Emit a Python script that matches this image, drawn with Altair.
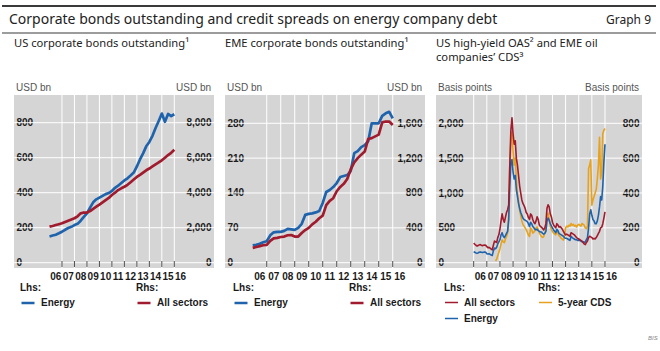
import altair as alt
import pandas as pd

# ---------------- data ----------------
YEARS = list(range(2006, 2017))

# quarterly time stamps 2006.0 .. 2016.0
Q_T = [2006 + i * 0.25 for i in range(41)]

# Panel 1: US corporate bonds outstanding (USD bn)
P1_ENERGY = [150, 155, 160, 168, 177, 188, 198, 205, 215, 222, 240, 262, 282, 315, 345, 362,
             372, 382, 392, 398, 410, 428, 440, 455, 470, 482, 498, 515, 550, 590, 625, 665,
             690, 725, 770, 810, 852, 805, 850, 838, 848]
P1_ALL = [2060, 2100, 2150, 2200, 2250, 2330, 2400, 2470, 2540, 2650, 2820, 2870, 2860, 2950,
          3080, 3200, 3320, 3450, 3580, 3700, 3870, 4000, 4150, 4250, 4340, 4450, 4600, 4750,
          4900, 5020, 5150, 5280, 5380, 5500, 5620, 5730, 5850, 6000, 6150, 6280, 6450]
P1_LHS_TICKS = [0, 200, 400, 600, 800]
P1_RHS_TICKS = [0, 2000, 4000, 6000, 8000]

# Panel 2: EME corporate bonds outstanding (USD bn)
P2_ENERGY = [35, 36, 38, 41, 43, 55, 61, 62, 62, 64, 68, 67, 66, 70, 78, 96, 98, 99, 101, 104,
             120, 142, 146, 152, 160, 172, 174, 176, 184, 220, 224, 232, 236, 244, 280, 280,
             280, 295, 300, 303, 290]
P2_ALL = [170, 180, 190, 200, 205, 250, 280, 285, 295, 300, 315, 318, 300, 300, 340, 375, 400,
          440, 470, 510, 540, 660, 710, 740, 820, 870, 905, 960, 1070, 1150, 1200, 1240, 1275,
          1420, 1430, 1450, 1470, 1610, 1620, 1620, 1580]
P2_LHS_TICKS = [0, 70, 140, 210, 280]
P2_RHS_TICKS = [0, 400, 800, 1200, 1600]

# Panel 3: monthly spreads (basis points)
M_T = [2006 + i / 12 for i in range(121)]
P3_ALL = [280, 265, 250, 240, 245, 255, 260, 250, 245, 250, 255, 250,
          230, 215, 220, 210, 195, 185, 250, 310, 300, 290, 360, 400,
          480, 600, 700, 620, 580, 650, 720, 760, 830, 1400, 1900, 2080,
          1850, 1700, 1750, 1500, 1400, 1250, 1100, 1000, 900, 850, 820, 780,
          720, 700, 650, 620, 700, 680, 620, 580, 560, 600, 660, 620,
          540, 520, 510, 490, 470, 500, 560, 780, 830, 800, 700, 660,
          580, 540, 520, 500, 560, 540, 510, 520, 500, 480, 450, 420,
          400, 410, 400, 390, 380, 430, 420, 410, 400, 380, 360, 350,
          340, 330, 320, 310, 290, 270, 260, 290, 310, 360, 380, 370,
          360, 340, 350, 340, 360, 390, 420, 450, 500, 510, 560, 640,
          730]
P3_ENERGY = [160, 150, 140, 135, 140, 150, 155, 150, 145, 150, 155, 150,
             130, 125, 130, 120, 110, 105, 170, 210, 200, 220, 270, 300,
             330, 400, 430, 380, 360, 390, 420, 450, 620, 1100, 1450, 1480,
             1300, 1200, 1250, 1050, 950, 850, 780, 720, 680, 640, 620, 610,
             600, 590, 560, 520, 580, 560, 520, 500, 480, 470, 480, 460,
             450, 440, 440, 420, 410, 420, 450, 600, 640, 610, 560, 530,
             500, 470, 450, 430, 480, 460, 420, 410, 400, 390, 380, 360,
             350, 350, 340, 330, 320, 380, 360, 350, 340, 330, 330, 320,
             320, 320, 310, 300, 300, 290, 300, 330, 360, 500, 700, 760,
             680, 620, 600, 560, 560, 600, 680, 800, 950, 900, 1100, 1450,
             1700]
CDS_T = [2007 + (8 + i) / 12 for i in range(101)]
P3_CDS = [10, 20, 40, 60,
          80, 110, 130, 120, 115, 135, 150, 170, 260, 560, 700, 750,
          640, 560, 600, 480, 400, 350, 300, 270, 240, 220, 210, 200,
          190, 175, 160, 150, 200, 190, 170, 175, 185, 200, 205, 190,
          170, 160, 150, 145, 150, 170, 190, 270, 285, 250, 210, 190,
          180, 170, 165, 160, 180, 170, 155, 150, 140, 135, 130, 150,
          200, 210, 205, 215, 210, 225, 215, 220, 210, 215, 205, 215,
          220, 215, 210, 225, 220, 215, 200, 195, 210, 540, 560, 590,
          330, 360, 380, 400, 420, 480, 560, 720, 480, 520, 740, 760,
          770]
P3_LHS_TICKS = [0, 500, 1000, 1500, 2000]
P3_RHS_TICKS = [0, 200, 400, 600, 800]

S_ENERGY, S_ALL, S_CDS = "Energy", "All sectors", "5-year CDS"

TITLE = "Corporate bonds outstanding and credit spreads on energy company debt"
GRAPH = "Graph 9"
SUB1 = "US corporate bonds outstanding\u00b9"
SUB2 = "EME corporate bonds outstanding\u00b9"
SUB3 = ["US high-yield OAS\u00b2 and EME oil", "companies\u2019 CDS\u00b3"]
UNIT_USD = "USD bn"
UNIT_BP = "Basis points"

# ---------------- style ----------------
BLUE, RED, ORANGE = "#1f63ad", "#a01b2d", "#e6a21e"
GRAY = "#d5d5d5"
FONT = "Liberation Sans"
TFONT = "Noto Sans"
INK = "#1a1a1a"
UNIT = "#555555"
H = 173
W1, W2, W3 = 200, 200, 206

YEAR_DF = pd.DataFrame({"yr": YEARS, "mid": [y + 0.5 for y in YEARS],
                        "lab": [str(y)[2:] for y in YEARS]})


def long(t, vals, name):
    return pd.DataFrame({"t": t, "v": vals, "s": [name] * len(vals)})


def xs(field, xdom):
    return alt.X(field, type="quantitative",
                 scale=alt.Scale(domain=xdom, nice=False, zero=False), axis=None)


def ys(field, ydom):
    return alt.Y(field, type="quantitative",
                 scale=alt.Scale(domain=ydom, nice=False, zero=False), axis=None)


def x_layers(xdom, first_year):
    base = alt.Chart(YEAR_DF)
    grid_df = base.transform_filter(f"datum.yr >= {first_year}")
    vgrid = grid_df.mark_rule(color="#ffffff", strokeWidth=1).encode(
        x=xs("yr", xdom), y=alt.value(0), y2=alt.value(H))
    ticks = grid_df.mark_rule(color="#4d4d4d", strokeWidth=1).encode(
        x=xs("yr", xdom), y=alt.value(H - 7), y2=alt.value(H - 1))
    labels = base.mark_text(font=FONT, fontSize=10, fontWeight="bold", color=INK,
                            baseline="middle", align="center").encode(
        x=xs("mid", xdom), y=alt.value(H + 9), text="lab:N")
    return vgrid, ticks, labels


def hgrid(vals, ydom, w):
    return alt.Chart(pd.DataFrame({"v": vals})).mark_rule(color="#ffffff", strokeWidth=1).encode(
        y=ys("v", ydom), x=alt.value(0), x2=alt.value(w))


def y_axis(vals, side):
    kw = dict(values=vals, orient=side, domain=False, ticks=False, grid=False,
              labelBaseline="middle", labelFont=FONT, labelFontSize=10, labelFontWeight="bold",
              labelColor=INK, format=",.0f", title=None, labelFlush=False, labelOverlap=False)
    if side == "left":
        kw.update(labelAlign="left", labelPadding=-2)
    else:
        kw.update(labelAlign="right", labelPadding=-3)
    return alt.Axis(**kw)


def legend(title, lx, ly, sw):
    return alt.Legend(title=title, orient="none", legendX=lx, legendY=ly, symbolType="stroke",
                      symbolSize=169, symbolStrokeWidth=sw, titleFont=FONT, titleFontSize=10,
                      titleFontWeight="bold", titleColor=INK, labelFont=FONT, labelFontSize=10,
                      labelFontWeight="bold", labelColor=INK, titlePadding=2, rowPadding=3,
                      padding=0, labelOffset=5, direction="vertical")


def series(df, xdom, ydom, yax, names, colors, leg, sw):
    return alt.Chart(df).mark_line(strokeWidth=sw, strokeJoin="round").encode(
        x=xs("t", xdom),
        y=alt.Y("v:Q", scale=alt.Scale(domain=ydom, nice=False, zero=False), axis=yax),
        color=alt.Color("s:N", scale=alt.Scale(domain=names, range=colors), legend=leg),
    )


def txt(s, x, y, size=10, color=INK, weight="normal", align="left", font=FONT, style="normal"):
    return alt.Chart(pd.DataFrame({"t": [s]})).mark_text(
        align=align, baseline="middle", fontSize=size, font=font, fontWeight=weight,
        color=color, fontStyle=style).encode(text="t:N", x=alt.value(x), y=alt.value(y))


def hrule(x1, x2, y, color, width):
    return alt.Chart(pd.DataFrame({"a": [0]})).mark_rule(color=color, strokeWidth=width).encode(
        x=alt.value(x1), x2=alt.value(x2), y=alt.value(y))


# header rows (relative to panel plot top at y=95)
Y_RULE1, Y_TITLE, Y_RULE2, Y_SUB, Y_SUB2, Y_UNIT = -89, -75, -62, -51, -37, -7
SUB_SIZE = 11.2

# ---------------- panel 1 ----------------
xd1 = [2003.155, 2003.155 + W1 / 12.48]
yl1, yr1 = [-30.3, 958.3], [-303, 9583]
g1 = x_layers(xd1, 2007)
p1 = alt.layer(
    hgrid(P1_LHS_TICKS, yl1, W1), g1[0], g1[1], g1[2],
    hrule(-12, 642, Y_RULE1, "#3a3a3a", 2),
    txt(TITLE, -5, Y_TITLE, 14, "#222222", font=TFONT),
    hrule(-12, 642, Y_RULE2, "#3a3a3a", 1.2),
    txt(SUB1, 0, Y_SUB, SUB_SIZE, "#222222", font=TFONT),
    txt(UNIT_USD, 2, Y_UNIT, 10, UNIT),
    txt(UNIT_USD, W1 - 3, Y_UNIT, 10, UNIT, align="right"),
    series(long(Q_T, P1_ENERGY, S_ENERGY), xd1, yl1, y_axis(P1_LHS_TICKS, "left"),
           [S_ENERGY], [BLUE], legend("Lhs:", 6, 188, 2.5), 2.7),
    series(long(Q_T, P1_ALL, S_ALL), xd1, yr1, y_axis(P1_RHS_TICKS, "right"),
           [S_ALL], [RED], legend("Rhs:", 122, 188, 2.5), 2.7),
).resolve_scale(y="independent", color="independent").properties(width=W1, height=H)

# ---------------- panel 2 ----------------
xd2 = [2004.02, 2004.02 + W2 / 14.0]
yl2, yr2 = [-10.64, 336.8], [-60.8, 1924.6]
g2 = x_layers(xd2, 2007)
p2 = alt.layer(
    hgrid(P2_LHS_TICKS, yl2, W2), g2[0], g2[1], g2[2],
    txt(SUB2, 0, Y_SUB, SUB_SIZE, "#222222", font=TFONT),
    txt(UNIT_USD, 2, Y_UNIT, 10, UNIT),
    txt(UNIT_USD, W2 - 3, Y_UNIT, 10, UNIT, align="right"),
    series(long(Q_T, P2_ENERGY, S_ENERGY), xd2, yl2, y_axis(P2_LHS_TICKS, "left"),
           [S_ENERGY], [BLUE], legend("Lhs:", 8, 188, 2.5), 2.7),
    series(long(Q_T, P2_ALL, S_ALL), xd2, yr2, y_axis(P2_RHS_TICKS, "right"),
           [S_ALL], [RED], legend("Rhs:", 124, 188, 2.5), 2.7),
).resolve_scale(y="independent", color="independent").properties(width=W2, height=H)

# ---------------- panel 3 ----------------
xd3 = [2003.13, 2003.13 + W3 / 13.13]
yl3, yr3 = [-76, 2406], [-30.4, 962.4]
g3 = x_layers(xd3, 2006)
lhs3 = pd.concat([long(M_T, P3_ENERGY, S_ENERGY), long(M_T, P3_ALL, S_ALL)], ignore_index=True)
p3 = alt.layer(
    hgrid(P3_LHS_TICKS, yl3, W3), g3[0], g3[1], g3[2],
    txt(GRAPH, 215, Y_TITLE, 12, "#222222", align="right", font=TFONT),
    txt(SUB3[0], 0, Y_SUB, SUB_SIZE, "#222222", font=TFONT),
    txt(SUB3[1], 0, Y_SUB2, SUB_SIZE, "#222222", font=TFONT),
    txt(UNIT_BP, 2, Y_UNIT, 10, UNIT),
    txt(UNIT_BP, W3 - 3, Y_UNIT, 10, UNIT, align="right"),
    txt("BIS", 212, 243, 6, "#888888", style="italic"),
    series(long(CDS_T, P3_CDS, S_CDS), xd3, yr3, y_axis(P3_RHS_TICKS, "right"),
           [S_CDS], [ORANGE], legend("Rhs:", 102, 188, 1.5), 1.6),
    series(lhs3, xd3, yl3, y_axis(P3_LHS_TICKS, "left"),
           [S_ALL, S_ENERGY], [RED, BLUE], legend("Lhs:", 8, 188, 1.5), 1.6),
).resolve_scale(y="independent", color="independent").properties(width=W3, height=H)

chart = alt.hconcat(p1, p2, p3, spacing=11).properties(
    bounds="flush", padding={"left": 1, "top": 5, "right": 0, "bottom": 0}
).configure_view(fill=GRAY, stroke=None)

chart.save("out.html", embed_options={"renderer": "svg", "actions": False})
